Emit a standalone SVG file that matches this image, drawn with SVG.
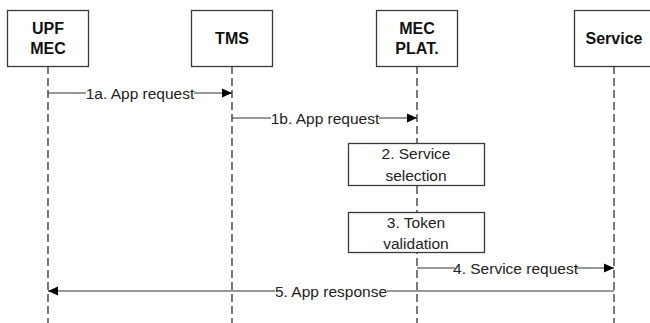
<svg xmlns="http://www.w3.org/2000/svg" width="650" height="323" viewBox="0 0 650 323">
<style>
.box{fill:#fff;stroke:#3a3a3a;stroke-width:1.3}
.life{stroke:#222;stroke-width:1.2;stroke-dasharray:8 4;fill:none}
.msg{stroke:#333;stroke-width:1.2;fill:none}
.hd{font-family:"Liberation Sans",Arial,sans-serif;font-weight:bold;font-size:16px;fill:#111;text-anchor:middle}
.lbl{font-family:"Liberation Sans",Arial,sans-serif;font-size:15.5px;fill:#222;text-anchor:middle}
.bg{fill:#fff}
</style>
<defs>
<marker id="ah" viewBox="0 0 10 10" refX="10" refY="5" markerWidth="10" markerHeight="10" markerUnits="userSpaceOnUse" orient="auto">
<path d="M0,0.5 L10,5 L0,9.5 Z" fill="#000"/>
</marker>
</defs>
<rect width="650" height="323" fill="#fff"/>
<g id="lifelines">
<line class="life" x1="48" y1="66" x2="48" y2="323"/>
<line class="life" x1="232" y1="66" x2="232" y2="323"/>
<line class="life" x1="417" y1="66" x2="417" y2="323"/>
<line class="life" x1="614" y1="66" x2="614" y2="323"/>
</g>
<g id="upf">
<rect class="box" x="7.5" y="10.5" width="81" height="56"/>
<text class="hd" x="48" y="34">UPF</text>
<text class="hd" x="48" y="54">MEC</text>
</g>
<g id="tms">
<rect class="box" x="191.5" y="10.5" width="81" height="56"/>
<text class="hd" x="232" y="44">TMS</text>
</g>
<g id="mec">
<rect class="box" x="376.5" y="10.5" width="81" height="56"/>
<text class="hd" x="417" y="34">MEC</text>
<text class="hd" x="417" y="54">PLAT.</text>
</g>
<g id="service">
<rect class="box" x="574.5" y="10.5" width="81" height="56"/>
<text class="hd" x="614" y="44">Service</text>
</g>
<g id="step2">
<rect class="box" x="348.5" y="143.5" width="136" height="42"/>
<text class="lbl" x="416" y="159">2. Service</text>
<text class="lbl" x="416" y="181">selection</text>
</g>
<g id="step3">
<rect class="box" x="348.5" y="212.5" width="136" height="40"/>
<text class="lbl" x="416" y="228">3. Token</text>
<text class="lbl" x="416" y="249">validation</text>
</g>
<g id="connectors">
<line class="msg" x1="48" y1="93" x2="232" y2="93" marker-end="url(#ah)"/>
<rect class="bg" x="86" y="84" width="108" height="18"/>
<text class="lbl" x="140" y="98.5">1a. App request</text>
<line class="msg" x1="232" y1="118" x2="417" y2="118" marker-end="url(#ah)"/>
<rect class="bg" x="271" y="109" width="108" height="18"/>
<text class="lbl" x="325" y="123.5">1b. App request</text>
<line class="msg" x1="417" y1="268" x2="614" y2="268" marker-end="url(#ah)"/>
<rect class="bg" x="455" y="259" width="121" height="18"/>
<text class="lbl" x="515.5" y="273.5">4. Service request</text>
<line class="msg" x1="614" y1="291" x2="48" y2="291" marker-end="url(#ah)"/>
<rect class="bg" x="275" y="282" width="112" height="18"/>
<text class="lbl" x="331" y="296.5">5. App response</text>
</g>
</svg>
